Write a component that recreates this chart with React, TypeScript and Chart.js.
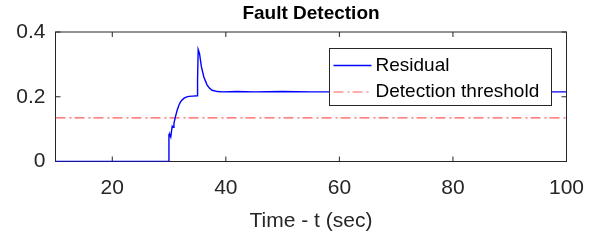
import React, { useEffect, useRef } from "react";
import { Chart, registerables } from "chart.js";

Chart.register(...registerables);

// ---- data ----
const timeSec = [
  10, 29.95, 29.98, 30.05, 30.15, 30.3, 30.56, 30.7, 30.86, 31.15, 31.44, 31.73,
  32.02, 32.3, 32.6, 33.0, 33.5, 34.2, 34.95, 35.02, 35.13, 35.36, 35.7, 36.13,
  36.7, 37.1, 37.6, 38.5, 39.5, 42, 45, 50, 55, 60, 70, 80, 90, 100,
];
const residual = [
  0, 0, 0.086, 0.078, 0.083, 0.076, 0.109, 0.106, 0.118, 0.14, 0.159, 0.174,
  0.184, 0.19, 0.195, 0.199, 0.201, 0.202, 0.203, 0.25, 0.346, 0.334, 0.292, 0.261,
  0.236, 0.227, 0.22, 0.216, 0.215, 0.216, 0.215, 0.216, 0.215, 0.215, 0.215, 0.215, 0.215, 0.215,
];
const thresholdTime = [10, 100];
const thresholdLevel = [0.135, 0.135];
const xTickValues = [20, 40, 60, 80, 100];
const yTickValues = [0, 0.2, 0.4];
const seriesNames = ["Residual", "Detection threshold"];
const chartTitle = "Fault Detection";
const xAxisTitle = "Time - t (sec)";

const AXIS = "#262626";
const FONT = "'Liberation Sans', Arial, Helvetica, sans-serif";
const BLUE = "#0000ff";
const RED = "#ff5a5a";

export default function App() {
  const ref = useRef<HTMLCanvasElement>(null);

  useEffect(() => {
    document.body.style.margin = "0";
    if (!ref.current) return;

    const matlabPlugin = {
      id: "matlabLook",
      beforeDatasetsDraw(chart: any) {
        const { ctx, chartArea: a, scales } = chart;
        ctx.save();
        ctx.strokeStyle = AXIS;
        ctx.lineWidth = 1;
        ctx.strokeRect(a.left, a.top, a.right - a.left, a.bottom - a.top);
        const tl = 5;
        ctx.beginPath();
        xTickValues.forEach((v) => {
          const x = scales.x.getPixelForValue(v);
          ctx.moveTo(x, a.bottom);
          ctx.lineTo(x, a.bottom - tl);
          ctx.moveTo(x, a.top);
          ctx.lineTo(x, a.top + tl);
        });
        yTickValues.forEach((v) => {
          const y = scales.y.getPixelForValue(v);
          ctx.moveTo(a.left, y);
          ctx.lineTo(a.left + tl, y);
          ctx.moveTo(a.right, y);
          ctx.lineTo(a.right - tl, y);
        });
        ctx.stroke();
        ctx.restore();
      },
      afterDatasetsDraw(chart: any) {
        const { ctx } = chart;
        const lx = 329.5, ly = 48.5, lw = 222, lh = 57;
        ctx.save();
        ctx.fillStyle = "#ffffff";
        ctx.fillRect(lx, ly, lw, lh);
        ctx.strokeStyle = AXIS;
        ctx.lineWidth = 1;
        ctx.setLineDash([]);
        ctx.strokeRect(lx, ly, lw, lh);
        chart.data.datasets.forEach((ds: any, i: number) => {
          const y = ly + 17 + i * 26.5;
          ctx.save();
          ctx.beginPath();
          ctx.strokeStyle = ds.borderColor;
          ctx.lineWidth = ds.borderWidth;
          ctx.setLineDash(ds.borderDash || []);
          ctx.moveTo(lx + 4, y);
          ctx.lineTo(lx + 42, y);
          ctx.stroke();
          ctx.restore();
          ctx.fillStyle = "#000000";
          ctx.font = `19px ${FONT}`;
          ctx.textAlign = "left";
          ctx.textBaseline = "middle";
          ctx.fillText(ds.label, lx + 46, y);
        });
        ctx.restore();
      },
      afterDraw(chart: any) {
        const { ctx, chartArea: a } = chart;
        ctx.save();
        ctx.fillStyle = "#000000";
        ctx.font = `bold 19px ${FONT}`;
        ctx.textAlign = "center";
        ctx.textBaseline = "alphabetic";
        ctx.fillText(chartTitle, (a.left + a.right) / 2, 19);
        ctx.restore();
      },
    };

    const chart = new Chart(ref.current, {
      type: "line",
      data: {
        datasets: [
          {
            label: seriesNames[0],
            data: timeSec.map((t, i) => ({ x: t, y: residual[i] })),
            borderColor: BLUE,
            borderWidth: 1.4,
            pointRadius: 0,
            tension: 0,
          },
          {
            label: seriesNames[1],
            data: thresholdTime.map((t, i) => ({ x: t, y: thresholdLevel[i] })),
            borderColor: RED,
            borderWidth: 1.2,
            borderDash: [10, 4, 2, 3],
            pointRadius: 0,
            tension: 0,
          },
        ],
      },
      options: {
        responsive: false,
        animation: false,
        layout: { padding: { left: 0, right: 35.5, top: 32, bottom: 0 } },
        plugins: {
          legend: { display: false },
          title: { display: false },
          tooltip: { enabled: false },
        },
        scales: {
          x: {
            type: "linear",
            min: 10,
            max: 100,
            grid: { display: false, drawTicks: false },
            border: { display: false },
            afterBuildTicks: (s: any) => {
              s.ticks = xTickValues.map((v) => ({ value: v }));
            },
            afterFit: (s: any) => {
              s.height = 79.5;
            },
            ticks: {
              padding: 14,
              color: AXIS,
              font: { family: FONT, size: 21 },
              maxRotation: 0,
              autoSkip: false,
            },
            title: {
              display: true,
              text: xAxisTitle,
              color: AXIS,
              font: { family: FONT, size: 21 },
              padding: { top: 0, bottom: 7 },
            },
          },
          y: {
            type: "linear",
            min: 0,
            max: 0.4,
            grid: { display: false, drawTicks: false },
            border: { display: false },
            afterBuildTicks: (s: any) => {
              s.ticks = yTickValues.map((v) => ({ value: v }));
            },
            afterFit: (s: any) => {
              s.width = 55.5;
            },
            ticks: {
              padding: 10,
              color: AXIS,
              font: { family: FONT, size: 21 },
              callback: (v: any) => String(v),
            },
          },
        },
      },
      plugins: [matlabPlugin],
    });

    return () => chart.destroy();
  }, []);

  return <canvas ref={ref} width={602} height={241} style={{ display: "block" }} />;
}
